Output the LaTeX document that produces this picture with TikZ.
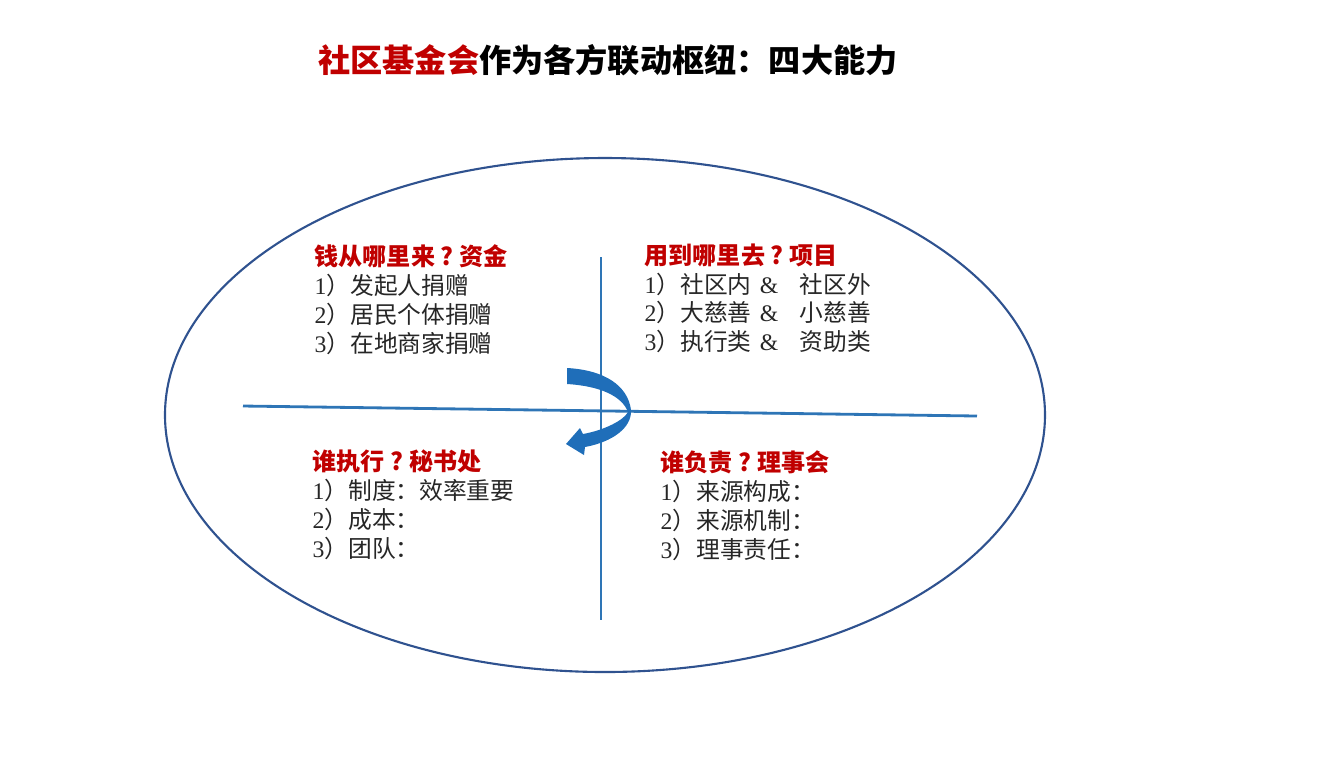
\documentclass[tikz,border=0pt]{standalone}
\usepackage{fontspec}
\setmainfont{Noto Sans CJK SC}
\newfontfamily\numfont{Liberation Serif}

\definecolor{titlered}{RGB}{192,0,0}
\definecolor{rimblue}{RGB}{47,82,143}
\definecolor{axisblue}{RGB}{46,117,182}
\definecolor{arrowblue}{RGB}{31,110,185}
\definecolor{bodygray}{RGB}{38,38,38}

\tikzset{
  heading/.style={anchor=west, inner sep=0pt, font=\fontsize{6.85pt}{8pt}\selectfont\bfseries, text=titlered},
  item/.style={anchor=west, inner sep=0pt, font=\fontsize{6.75pt}{8pt}\selectfont, text=bodygray},
  axis/.style={axisblue, line width=0.8pt}
}
\newcommand{\nr}[1]{{\numfont #1}）}
\newcommand{\qm}{\makebox[1em]{?}}

\begin{document}
\begin{tikzpicture}[x=0.01cm, y=-0.01cm]
  \useasboundingbox (0,0) rectangle (1344,756);

  % --- title ---
  \node[inner sep=0pt, font=\fontsize{9.15pt}{11pt}\selectfont\bfseries] (title) at (608,60)
    {\textcolor{titlered}{社区基金会}作为各方联动枢纽：四大能力};

  % --- ellipse and the two axes ---
  \draw[rimblue, line width=0.6pt] (605,415) ellipse (440 and 257);
  \coordinate (hleft) at (243,406);
  \coordinate (hright) at (977,416);
  \coordinate (vtop) at (601,257);
  \coordinate (vbot) at (601,620);
  \draw[axis] (hleft) -- (hright);
  \draw[axis] (vtop) -- (vbot);

  % --- curved arrow ---
  \fill[arrowblue] (567,368) .. controls (605,370) and (628,386) .. (631,410)
    .. controls (632,428) and (612,442) .. (585,447)
    -- (584,455) -- (566,444) -- (580,428) -- (583,434)
    .. controls (605,430) and (624,420) .. (628,412)
    .. controls (622,396) and (600,386) .. (567,384) -- cycle;

  % --- upper left: money ---
  \node[heading] (moneyhead) at (314,256) {钱从哪里来\qm 资金};
  \node[item] (money1) at (314,285) {\nr{1}发起人捐赠};
  \node[item] (money2) at (314,314) {\nr{2}居民个体捐赠};
  \node[item] (money3) at (314,343) {\nr{3}在地商家捐赠};

  % --- upper right: projects ---
  \node[heading] (projhead) at (644,255) {用到哪里去\qm 项目};
  \node[item] (proj1) at (644,284) {\nr{1}社区内\hspace{0.35em}{\numfont\&}\hspace{0.9em}社区外};
  \node[item] (proj2) at (644,312) {\nr{2}大慈善\hspace{0.35em}{\numfont\&}\hspace{0.9em}小慈善};
  \node[item] (proj3) at (644,341) {\nr{3}执行类\hspace{0.35em}{\numfont\&}\hspace{0.9em}资助类};

  % --- lower left: secretariat ---
  \node[heading] (secrhead) at (312,461) {谁执行\qm 秘书处};
  \node[item] (secr1) at (312,490) {\nr{1}制度：效率重要};
  \node[item] (secr2) at (312,519) {\nr{2}成本：};
  \node[item] (secr3) at (312,548) {\nr{3}团队：};

  % --- lower right: board ---
  \node[heading] (boardhead) at (660,462) {谁负责\qm 理事会};
  \node[item] (board1) at (660,491) {\nr{1}来源构成：};
  \node[item] (board2) at (660,520) {\nr{2}来源机制：};
  \node[item] (board3) at (660,549) {\nr{3}理事责任：};
\end{tikzpicture}
\end{document}
